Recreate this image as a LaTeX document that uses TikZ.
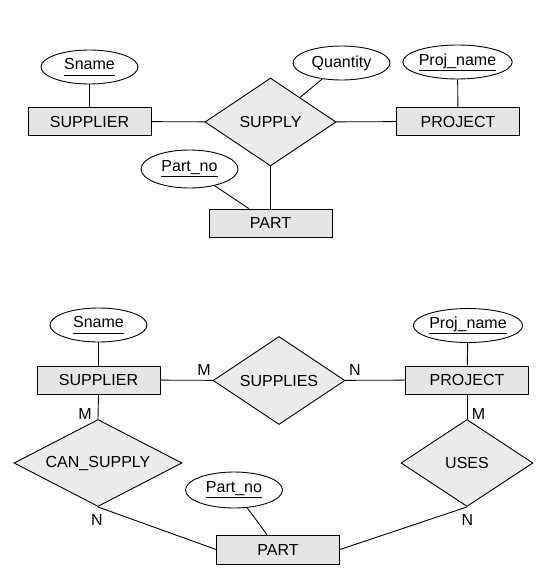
\documentclass[tikz,border=0pt]{standalone}
\usepackage{fontspec}
\setmainfont{Liberation Sans}
\usetikzlibrary{shapes.geometric}
% key attribute: underlined with a fixed gap below the baseline
\newcommand{\keyattr}[1]{\underline{#1\rule[-3.5pt]{0pt}{0pt}}}
\begin{document}
\begin{tikzpicture}[x=1pt,y=-1pt,
  line width=0.9pt,
  every node/.style={font=\fontsize{16}{19}\selectfont},
  ent/.style={draw, fill=black!10, minimum width=123pt, minimum height=28pt, inner sep=0pt},
  attr/.style={draw, ellipse, fill=white, minimum width=97pt, minimum height=34pt, inner sep=0pt},
  rel/.style={draw, diamond, fill=black!8, inner sep=0pt},
  card/.style={inner sep=0pt}]
\useasboundingbox (0,0) rectangle (535,575);

% ---------- ternary relationship ----------
\node[ent] (sup1) at (89.5,121.5) {SUPPLIER};
\node[ent] (proj1) at (458,121.5) {PROJECT};
\node[ent] (part1) at (270.5,223) {PART};
\node[rel, minimum width=131pt, minimum height=88pt] (supply) at (270.5,122) {\makebox[0pt]{SUPPLY}};
\node[attr] (sname1) at (89.5,67) {\keyattr{Sname}};
\node[attr] (qty) at (341.5,63) {Quantity};
\node[attr] (pname1) at (457.5,62) {\keyattr{Proj\_name}};
\node[attr, minimum height=38pt] (pno1) at (189.5,169) {\keyattr{Part\_no}};

\draw (sname1) -- (sup1);
\draw (pname1) -- (proj1);
\draw (sup1) -- (supply);
\draw (supply) -- (proj1);
\draw (supply) -- (qty);
\draw (supply.south) -- (part1.north);
\draw (pno1) -- (part1);

% ---------- three binary relationships ----------
\node[ent] (sup2) at (98.5,380) {SUPPLIER};
\node[ent] (proj2) at (467,380) {PROJECT};
\node[ent, minimum height=29pt] (part2) at (278,549.5) {PART};
\node[rel, minimum width=132pt, minimum height=88pt] (supplies) at (279,380.5) {\makebox[0pt]{SUPPLIES}};
\node[rel, minimum width=168pt, minimum height=87pt] (cansup) at (98,463) {\makebox[0pt]{CAN\_SUPPLY}};
\node[rel, minimum width=132pt, minimum height=87pt] (uses) at (467,463) {\makebox[0pt]{USES}};
\node[attr] (sname2) at (98.5,325) {\keyattr{Sname}};
\node[attr] (pname2) at (468,325.5) {\keyattr{Proj\_name}};
\node[attr, minimum height=36pt] (pno2) at (234,490) {\keyattr{Part\_no}};

\draw (sname2) -- (sup2);
\draw (pname2) -- (proj2);
\draw (sup2) -- (supplies);
\draw (supplies) -- (proj2);
\draw (sup2.south) -- (cansup.north);
\draw (proj2.south) -- (uses.north);
\draw (cansup.south) -- (part2.west);
\draw (uses.south) -- (part2.east);
\draw (pno2) -- (part2);

% cardinality labels
\node[card] (m1) at (204,370) {M};
\node[card] (n1) at (355,370) {N};
\node[card] (m2) at (85,414) {M};
\node[card] (n2) at (97,520) {N};
\node[card] (m3) at (478.5,414) {M};
\node[card] (n3) at (467.5,520) {N};
\end{tikzpicture}
\end{document}
